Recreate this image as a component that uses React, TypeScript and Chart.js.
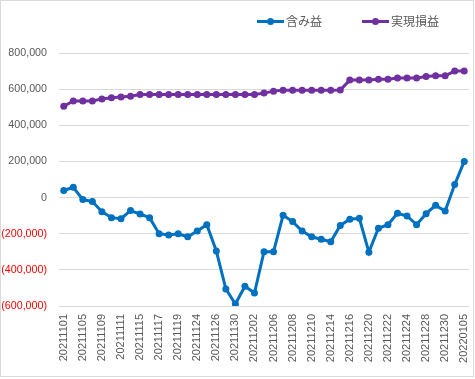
import React, { useEffect, useRef } from "react";
import { Chart, registerables } from "chart.js";

Chart.register(...registerables);

const dates: string[] = [
  "20211101", "20211102", "20211105", "20211108", "20211109", "20211110", "20211111", "20211112",
  "20211115", "20211116", "20211117", "20211118", "20211119", "20211122", "20211124", "20211125",
  "20211126", "20211129", "20211130", "20211201", "20211202", "20211203", "20211206", "20211207",
  "20211208", "20211209", "20211210", "20211213", "20211214", "20211215", "20211216", "20211217",
  "20211220", "20211221", "20211222", "20211223", "20211224", "20211227", "20211228", "20211229",
  "20211230", "20220104", "20220105",
];

const unrealized: number[] = [
  39000, 57000, -11000, -22000, -78000, -111000, -117000, -72000, -91000, -111000,
  -200000, -207000, -200000, -217000, -185000, -150000, -296000, -506000, -589000, -491000,
  -528000, -300000, -300000, -98000, -133000, -185000, -217000, -231000, -244000, -154000,
  -120000, -115000, -302000, -170000, -150000, -87000, -102000, -150000, -89000, -43000,
  -74000, 72000, 200000,
];

const realized: number[] = [
  505000, 535000, 535000, 535000, 546000, 552000, 557000, 561000, 570000, 570000,
  570000, 570000, 570000, 570000, 570000, 570000, 570000, 570000, 570000, 570000,
  570000, 578000, 589000, 594000, 594000, 594000, 594000, 594000, 594000, 595000,
  650000, 650000, 650000, 655000, 655000, 661000, 661000, 661000, 670000, 674000,
  674000, 700000, 700000,
];

const seriesNames: string[] = ["含み益", "実現損益"];
const seriesColors: string[] = ["#0070C0", "#7030A0"];

const fmt = (v: number): string => {
  const s = Math.abs(v).toLocaleString("en-US");
  return v < 0 ? `(${s})` : s;
};

const legendPlugin = {
  id: "excelLegend",
  afterDraw(chart: any) {
    const ctx = chart.ctx;
    const items = [
      { x: 256, text: seriesNames[0], color: seriesColors[0] },
      { x: 361, text: seriesNames[1], color: seriesColors[1] },
    ];
    const y = 20.5;
    ctx.save();
    items.forEach((it) => {
      ctx.strokeStyle = it.color;
      ctx.lineWidth = 3;
      ctx.beginPath();
      ctx.moveTo(it.x, y);
      ctx.lineTo(it.x + 27, y);
      ctx.stroke();
      ctx.fillStyle = it.color;
      ctx.beginPath();
      ctx.arc(it.x + 13.5, y, 3.5, 0, Math.PI * 2);
      ctx.fill();
      ctx.fillStyle = "#595959";
      ctx.font = "12px 'Noto Sans CJK JP'";
      ctx.textBaseline = "middle";
      ctx.textAlign = "left";
      ctx.fillText(it.text, it.x + 29, y);
    });
    ctx.restore();
  },
};

export default function App() {
  const ref = useRef<HTMLCanvasElement | null>(null);

  useEffect(() => {
    document.body.style.margin = "0";
    if (!ref.current) return;
    const chart = new Chart(ref.current, {
      type: "line",
      data: {
        labels: dates,
        datasets: [
          {
            label: seriesNames[0],
            data: unrealized,
            borderColor: seriesColors[0],
            backgroundColor: seriesColors[0],
            borderWidth: 3,
            pointRadius: 3.5,
            pointBorderWidth: 0,
            tension: 0,
          },
          {
            label: seriesNames[1],
            data: realized,
            borderColor: seriesColors[1],
            backgroundColor: seriesColors[1],
            borderWidth: 3,
            pointRadius: 3.5,
            pointBorderWidth: 0,
            tension: 0,
          },
        ],
      },
      options: {
        animation: false,
        responsive: false,
        maintainAspectRatio: false,
        layout: { padding: { top: 52, right: 1, bottom: 0, left: 0 } },
        plugins: {
          legend: { display: false },
          tooltip: { enabled: false },
        },
        scales: {
          x: {
            offset: true,
            grid: { display: false, drawTicks: false },
            border: { display: false },
            afterFit: (s: any) => {
              s.height = 70;
              s.paddingLeft = 0;
              s.paddingRight = 0;
            },
            ticks: {
              autoSkip: false,
              maxRotation: 90,
              minRotation: 90,
              padding: 8,
              color: "#595959",
              font: { family: "'Liberation Sans', Arial", size: 11 },
              callback: (_v: any, i: number) => (i % 2 === 0 ? dates[i] : ""),
            },
          },
          y: {
            min: -600000,
            max: 800000,
            afterFit: (s: any) => {
              s.width = 58;
            },
            grid: { color: "#d9d9d9", lineWidth: 1, drawTicks: false },
            border: { display: false },
            ticks: {
              stepSize: 200000,
              padding: 12,
              font: { family: "'Liberation Sans', Arial", size: 10.7 },
              color: (c: any) => (c.tick && c.tick.value < 0 ? "#FF0000" : "#595959"),
              callback: (v: any) => fmt(Number(v)),
            },
          },
        },
      },
      plugins: [legendPlugin],
    });
    return () => chart.destroy();
  }, []);

  return (
    <div
      style={{
        width: 474,
        height: 377,
        border: "1px solid #d9d9d9",
        boxSizing: "border-box",
        position: "relative",
        background: "#fff",
      }}
    >
      <canvas ref={ref} width={472} height={375} style={{ display: "block" }} />
    </div>
  );
}
